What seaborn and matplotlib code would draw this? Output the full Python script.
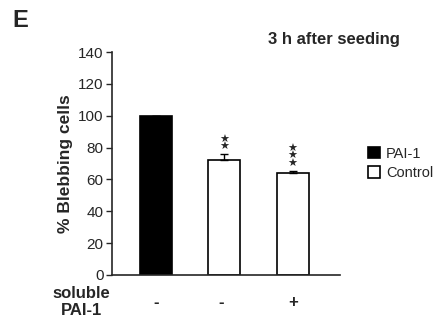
import numpy as np
import pandas as pd
import seaborn as sns
import matplotlib.pyplot as plt

# data
conditions = ["-", "- ", "+"]
groups = ["PAI-1", "Control", "Control"]
blebbing = [100, 72, 64]
sem = [0, 4, 1.5]
stars = ["", "**", "***"]

sns.set_style("ticks")
plt.rcParams["font.family"] = ["Liberation Sans", "DejaVu Sans"]

df = pd.DataFrame({"cond": conditions, "group": groups, "value": blebbing, "err": sem})

fig = plt.figure(figsize=(4.35, 3.22), dpi=100)
ax = fig.add_axes([0.2575, 0.146, 0.524, 0.6925])

sns.barplot(data=df, x="cond", y="value", hue="group", dodge=False,
            palette={"PAI-1": "black", "Control": "white"},
            edgecolor="black", linewidth=1.2, width=0.47, errorbar=None, ax=ax)

xpos = np.arange(len(df))
ax.errorbar(xpos, df["value"], yerr=[np.zeros(len(df)), df["err"]],
            fmt="none", ecolor="black", elinewidth=1, capsize=3, capthick=1)

for i, s in enumerate(stars):
    if s:
        top = df["value"][i] + df["err"][i]
        ax.text(i, top + 1, "\n".join(["\u2605"] * len(s)), ha="center", va="bottom",
                fontsize=8, linespacing=0.72, family="DejaVu Sans")

ax.set_ylim(0, 140)
ax.set_yticks(range(0, 141, 20))
ax.set_xlim(-0.64, 2.69)
ax.tick_params(axis="y", labelsize=11, length=4, width=1, direction="out", pad=2)
ax.tick_params(axis="x", length=0, labelsize=12, pad=14.5)
for lab in ax.get_xticklabels():
    lab.set_fontweight("bold")
ax.set_xlabel("")
ax.set_ylabel("% Blebbing cells", fontsize=12.5, fontweight="bold", labelpad=4)
sns.despine(ax=ax)
ax.spines["left"].set_linewidth(1.2)
ax.spines["bottom"].set_linewidth(1.2)

leg = ax.legend(loc="upper left", bbox_to_anchor=(1.065, 0.635), frameon=False,
                fontsize=10.5, handlelength=0.85, handleheight=0.85, handletextpad=0.4,
                labelspacing=0.4)

fig.text(0.188, 0.112, "soluble\nPAI-1", ha="center", va="top", fontsize=12,
         fontweight="bold", linespacing=1.15)
fig.text(0.616, 0.876, "3 h after seeding", ha="left", va="center",
         fontsize=12, fontweight="bold")
fig.text(0.028, 0.935, "E", ha="left", va="center", fontsize=17, fontweight="bold")

fig.savefig("out.png", dpi=100)
